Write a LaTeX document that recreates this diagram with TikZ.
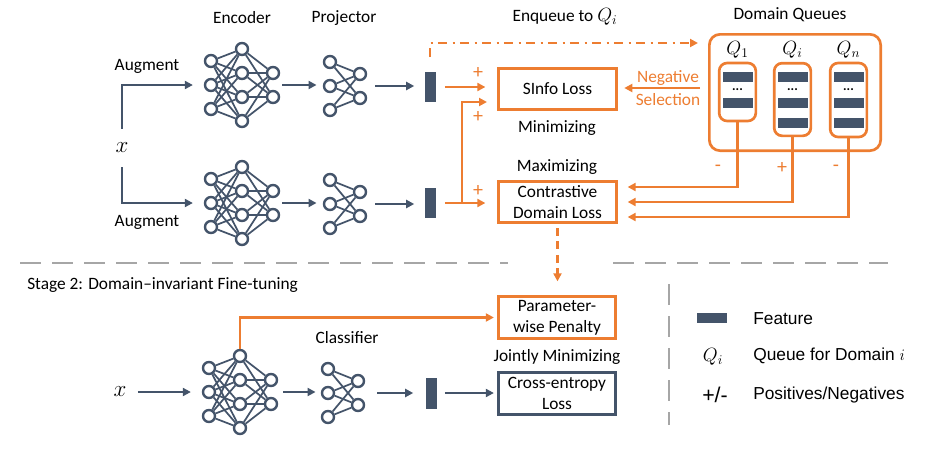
\documentclass[tikz,border=0pt]{standalone}
\usepackage{fontspec}
\setmainfont{Carlito}
\newfontfamily\legendfont{Liberation Sans}
\usepackage{tikz}
\usetikzlibrary{arrows.meta,positioning,calc,fit}

\definecolor{slate}{HTML}{44546A}
\definecolor{orangeC}{HTML}{ED7D31}
\definecolor{grayC}{HTML}{A6A6A6}

% encoder: 3-4-2 fully connected, #1 name, (#2,#3) centre
\newcommand{\encodernet}[3]{%
  \foreach \ii/\dy in {1/-24,2/0,3/24}
    \node[neuron] (#1-a\ii) at ({#2-31},{#3+\dy}) {};
  \foreach \ii/\dy in {1/-36,2/-12,3/12,4/36}
    \node[neuron] (#1-b\ii) at (#2,{#3+\dy}) {};
  \foreach \ii/\dy in {1/-12,2/12}
    \node[neuron] (#1-c\ii) at ({#2+31},{#3+\dy}) {};
  \foreach \ii in {1,2,3}
    \foreach \jj in {1,...,4}
      \draw[wire] (#1-a\ii) -- (#1-b\jj);
  \foreach \ii in {1,...,4}
    \foreach \jj in {1,2}
      \draw[wire] (#1-b\ii) -- (#1-c\jj);
  \node[fit=(#1-a1)(#1-b1)(#1-b4)(#1-c2), inner sep=0pt] (#1) {};
}
% projector / classifier: 3-2 fully connected
\newcommand{\projnet}[3]{%
  \foreach \ii/\dy in {1/-24,2/0,3/24}
    \node[neuron] (#1-a\ii) at ({#2-15},{#3+\dy}) {};
  \foreach \ii/\dy in {1/-12,2/12}
    \node[neuron] (#1-b\ii) at ({#2+15},{#3+\dy}) {};
  \foreach \ii in {1,2,3}
    \foreach \jj in {1,2}
      \draw[wire] (#1-a\ii) -- (#1-b\jj);
  \node[fit=(#1-a1)(#1-a3)(#1-b1)(#1-b2), inner sep=0pt] (#1) {};
}

\begin{document}
\begin{tikzpicture}[
    x=0.75pt, y=-0.75pt,
    font=\fontsize{13}{15.5}\selectfont,
    neuron/.style={circle, draw=slate, line width=1.8pt, fill=white,
                   minimum size=9pt, inner sep=0pt},
    wire/.style={draw=slate, line width=1.3pt},
    feat/.style={rectangle, fill=slate, minimum width=8.25pt,
                 minimum height=22.5pt, inner sep=0pt},
    qbar/.style={rectangle, fill=slate, minimum width=22.5pt,
                 minimum height=7.5pt, inner sep=0pt},
    qdots/.style={font=\fontsize{10}{10}\selectfont\bfseries, inner sep=0pt},
    sarr/.style={-{Triangle[length=6pt,width=6pt]}, line width=2pt, slate},
    oarr/.style={-{Triangle[length=6pt,width=6pt]}, line width=2pt, orangeC},
    obox/.style={draw=orangeC, line width=2.2pt, minimum width=88pt,
                 minimum height=31pt, align=center, inner sep=1pt},
    sbox/.style={obox, draw=slate},
    qouter/.style={draw=orangeC, line width=2pt, rounded corners=8pt,
                   minimum width=128.5pt, minimum height=87.25pt, inner sep=0pt},
    qbox/.style={draw=orangeC, line width=2pt, rounded corners=6pt,
                 minimum width=27.5pt, inner sep=0pt},
    osign/.style={text=orangeC, font=\fontsize{15}{15}\selectfont},
    mathx/.style={font=\fontsize{18}{18}\selectfont},
    mathq/.style={font=\fontsize{14}{14}\selectfont},
    leg/.style={font=\legendfont\fontsize{13}{15}\selectfont},
    sep/.style={draw=grayC, line width=2pt, dash pattern=on 16pt off 8pt}
  ]
    \useasboundingbox (0,0) rectangle (936,450);

    % Stage 1 titles
    \node (encT) at (242,18) {Encoder};
    \node (projT) at (344,18) {Projector};
    \node (enqT) at (565,17) {Enqueue to {\fontsize{14}{14}\selectfont$Q_i$}};
    \node (dqT) at (790,15) {Domain Queues};

    % two augmented views
    \node[mathx] (xin) at (122,148) {$x$};
    \node (augA) at (147,66) {Augment};
    \node (augB) at (147,222) {Augment};

    \encodernet{encA}{242}{85}
    \projnet{projA}{345}{86}
    \node[feat] (featA) at (430,87) {};
    \encodernet{encB}{242}{203}
    \projnet{projB}{345}{204}
    \node[feat] (featB) at (430,203) {};

    \draw[sarr, shorten <=7pt, shorten >=8pt] (xin.north) |- (encA.west);
    \draw[sarr, shorten <=7pt, shorten >=8pt] (xin.south) |- (encB.west);
    \draw[sarr, shorten <=1.5pt, shorten >=4.5pt] (encA.east) -- (encA.east -| projA.west);
    \draw[sarr, shorten <=1.5pt, shorten >=4.5pt] (encB.east) -- (encB.east -| projB.west);
    \draw[sarr, shorten <=6pt, shorten >=7.5pt] (projA.east) -- (projA.east -| featA.west);
    \draw[sarr, shorten <=6pt, shorten >=7.5pt] (projB.east) -- (projB.east -| featB.west);

    % losses
    \node[obox] (sinfo) at (557.5,89) {SInfo Loss};
    \node[obox] (cdl) at (557.5,202) {Contrastive\\Domain Loss};
    \node (minT) at (557,128) {Minimizing};
    \node (maxT) at (557,167) {Maximizing};

    \coordinate (split) at (462,203);
    \coordinate (sinfoIn) at (499,102);
    \draw[oarr, shorten <=6.75pt, shorten >=9pt] (featA.east) -- (featA.east -| sinfo.west);
    \draw[oarr, shorten <=6.75pt, shorten >=9pt] (featB.east) -- (featB.east -| cdl.west);
    \draw[oarr, shorten >=9pt] (split) |- (sinfoIn);
    \node[osign] (pA) at (478,73) {+};
    \node[osign] (pB) at (478,117) {+};
    \node[osign] (pC) at (478,191) {+};

    % enqueue
    \coordinate (enqEnd) at (698,43);
    \draw[oarr, dash pattern=on 7pt off 4pt on 1.5pt off 4pt, shorten <=11pt]
      (featA.north) |- (enqEnd);

    % domain queues
    \node[qouter] (dq) at (795,92.5) {};
    \node[mathq] (q1T) at (737.5,50) {$Q_1$};
    \node[mathq] (qiT) at (792.5,50) {$Q_i$};
    \node[mathq] (qnT) at (848.5,50) {$Q_n$};
    \node[qbox, minimum height=43.5pt] (q1) at (737.5,92) {};
    \node[qbox, minimum height=54.5pt] (qi) at (792.5,99.5) {};
    \node[qbox, minimum height=55.5pt] (qn) at (848.5,100) {};
    \node[qbar] (q1b1) at (737.5,77) {};
    \node[qdots] (q1d) at (737.5,90) {...};
    \node[qbar] (q1b2) at (737.5,103) {};
    \foreach \qx/\qq in {792.5/qi,848.5/qn}{
      \node[qbar] (\qq b1) at (\qx,77) {};
      \node[qdots] (\qq d) at (\qx,90) {...};
      \node[qbar] (\qq b2) at (\qx,103) {};
      \node[qbar] (\qq b3) at (\qx,123) {};
    }

    \node[text=orangeC, align=center] (negsel) at (668,88) {Negative\\[2pt]Selection};
    \draw[oarr, shorten <=6pt, shorten >=5pt] (dq.west |- negsel) -- (sinfo.east |- negsel);

    \draw[oarr, shorten >=7.5pt] (q1.south) |- ([yshift=11.25pt]cdl.east);
    \draw[oarr, shorten >=7.5pt] (qi.south) |- (cdl.east);
    \draw[oarr, shorten >=7.5pt] (qn.south) |- ([yshift=-11.25pt]cdl.east);
    \node[osign] (sgn1) at (718,168) {-};
    \node[osign] (sgni) at (782,168) {+};
    \node[osign] (sgnn) at (836,168) {-};

    % stage separator
    \coordinate (sepA) at (20,263);
    \coordinate (sepB) at (508,263);
    \coordinate (sepC) at (613,263);
    \coordinate (sepD) at (888,263);
    \coordinate (sepE) at (669,284);
    \coordinate (sepF) at (669,425);
    \draw[sep] (sepA) -- (sepB);
    \draw[sep] (sepC) -- (sepD);
    \draw[sep] (sepE) -- (sepF);

    % Stage 2
    \node[anchor=west, inner sep=0pt] (stage) at (27,285) {Stage 2: Domain--invariant Fine-tuning};
    \node[obox] (param) at (557,317.5) {Parameter-\\wise Penalty};
    \node (jointT) at (557,357) {Jointly Minimizing};
    \node[sbox] (ce) at (557,393.5) {Cross-entropy\\Loss};
    \draw[oarr, dash pattern=on 6pt off 4pt, shorten <=3pt, shorten >=10.5pt]
      (cdl.south) -- (cdl.south |- param.north);

    \node[mathx] (xin2) at (120,392) {$x$};
    \encodernet{encC}{240}{392}
    \projnet{cls}{343}{393}
    \node (clsT) at (347,338) {Classifier};
    \node[feat, minimum height=23.25pt] (featC) at (431,393) {};

    \draw[sarr, shorten <=5pt, shorten >=8pt] (xin2.east) -- (xin2.east -| encC.west);
    \draw[sarr, shorten <=3.5pt, shorten >=3.75pt] (encC.east) -- (encC.east -| cls.west);
    \draw[sarr, shorten <=9pt, shorten >=9pt] (cls.east) -- (cls.east -| featC.west);
    \draw[sarr, shorten <=6pt, shorten >=2.25pt] (featC.east) -- (featC.east -| ce.west);
    \draw[oarr, shorten >=2.25pt] (encC-b1.north) |- (param.west);

    % legend
    \node[qbar] (legFeat) at (712,318) {};
    \node[leg, anchor=west, inner sep=0pt] (legFeatT) at (753,319) {Feature};
    \node[mathq] (legQ) at (713,357) {$Q_i$};
    \node[leg, anchor=west, inner sep=0pt] (legQT) at (753,356) {Queue for Domain $i$};
    \node[leg, font=\legendfont\fontsize{16}{16}\selectfont] (legPM) at (715,395) {+/-};
    \node[leg, anchor=west, inner sep=0pt] (legPMT) at (753,395) {Positives/Negatives};
\end{tikzpicture}
\end{document}
